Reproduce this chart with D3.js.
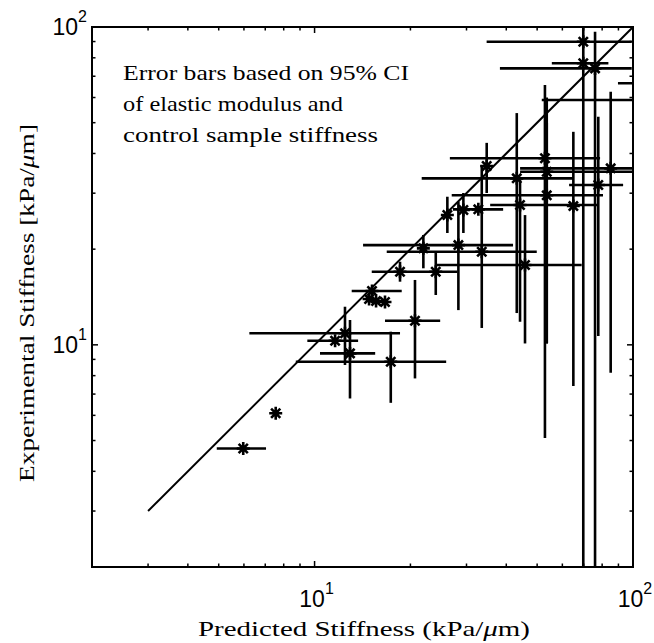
<!DOCTYPE html>
<html><head><meta charset="utf-8">
<script src="https://cdn.jsdelivr.net/npm/d3@7"></script>
<style>
body{margin:0;background:#fff}
.sans{font-family:"Liberation Sans",Arimo,Arial,Helvetica,sans-serif}
.serif{font-family:"Liberation Serif",Tinos,"Times New Roman",Times,serif}
</style>
</head><body>
<svg id="c" width="654" height="643"></svg>
<script>
// predicted stiffness (x), experimental stiffness (y), error bar ends
const predicted    = [5.97,7.55,11.6,12.46,12.92,17.35,20.67,15.15,14.83,15.6,16.64,18.55,21.96,24.02,28.29,33.5,45.8,26.12,29.33,32.68,34.72,43.15,44.18,52.9,53.6,53.6,64.96,77.8,85.1,69.8,69.8,76.0,115,110];
const experimental = [4.72,6.09,10.3,10.87,9.40,8.85,11.91,14.77,13.94,13.73,13.64,16.98,20.12,16.98,20.6,19.63,17.83,25.61,26.55,26.69,36.53,33.41,27.53,38.63,35.05,29.54,27.33,31.83,35.92,89.9,76.9,74.1,58.9,66.5];
const predLow  = [4.93,null,9.49,6.24,10.4,8.73,16.64,13.08,null,null,null,15.12,null,null,14.2,16.85,24.19,null,null,27.2,null,21.7,35.6,26.6,44.2,26.96,null,63.0,44.2,34.7,55.6,38.2,51.7,89.7];
const predHigh = [7.04,null,13.7,18.55,15.5,25.9,24.8,18.78,null,null,null,28.1,null,null,42.0,49.86,69.0,null,null,39.1,null,64.8,77.1,78.8,110,80.5,null,93.1,110,99.1,83.7,99.1,130,130];
const expLow   = [null,null,null,8.64,6.78,6.57,7.84,null,null,null,null,15.8,17.41,14.35,12.86,11.3,10.1,22.48,22.48,null,30.04,12.59,11.82,5.09,10.1,10.1,7.42,10.66,8.17,1,null,1,null,null];
const expHigh  = [null,null,null,13.18,11.97,11.0,16.0,null,null,null,null,18.26,22.16,19.45,28.2,36.8,25.6,29.24,30.04,null,43.2,53.6,33,65.7,60,50,46.8,52.2,62.6,150,null,96.6,null,null];
const xTickLabels = ["1","2"]; // exponents of 10
const yTickLabels = ["1","2"];
const annotation = ["Error bars based on 95% CI","of elastic modulus and","control sample stiffness"];

const svg = d3.select("#c");
const L=92,R=633,T=27,B=567;
const x = d3.scaleLog().domain([2,100]).range([L,R]);
const y = d3.scaleLog().domain([2,100]).range([B,T]);

svg.append("defs").append("clipPath").attr("id","clip")
  .append("rect").attr("x",L).attr("y",T).attr("width",R-L).attr("height",B-T);

const g = svg.append("g").attr("clip-path","url(#clip)");
const data = predicted.map((d,i)=>({x:d,y:experimental[i],xl:predLow[i],xh:predHigh[i],yl:expLow[i],yh:expHigh[i]}));

// identity line
g.append("line").attr("x1",x(3)).attr("y1",y(3)).attr("x2",x(100)).attr("y2",y(100))
  .attr("stroke","#000").attr("stroke-width",2);

// error bars
data.forEach(d=>{
  if(d.xl!=null) g.append("line").attr("x1",x(d.xl)).attr("x2",x(d.xh)).attr("y1",y(d.y)).attr("y2",y(d.y))
    .attr("stroke","#000").attr("stroke-width",2.6);
  if(d.yl!=null) g.append("line").attr("x1",x(d.x)).attr("x2",x(d.x)).attr("y1",y(d.yl)).attr("y2",y(d.yh))
    .attr("stroke","#000").attr("stroke-width",2.6);
});
// star markers
const s=6.5, s2=4.6;
data.forEach(d=>{
  const cx=x(d.x), cy=y(d.y);
  const p=`M${cx-s},${cy}L${cx+s},${cy}M${cx},${cy-s}L${cx},${cy+s}M${cx-s2},${cy-s2}L${cx+s2},${cy+s2}M${cx-s2},${cy+s2}L${cx+s2},${cy-s2}`;
  g.append("path").attr("d",p).attr("stroke","#000").attr("stroke-width",2.6).attr("fill","none");
});

// box
svg.append("rect").attr("x",L).attr("y",T).attr("width",R-L).attr("height",B-T)
  .attr("fill","none").attr("stroke","#000").attr("stroke-width",2);

// ticks (inward, all sides)
const minor=[2,3,4,5,6,7,8,9,20,30,40,50,60,70,80,90];
const major=[10,100];
const tk=svg.append("g").attr("stroke","#000").attr("stroke-width",1.5);
minor.concat(major).forEach(v=>{
  const len = major.includes(v)?6:3.5;
  tk.append("line").attr("x1",x(v)).attr("x2",x(v)).attr("y1",B).attr("y2",B-len);
  tk.append("line").attr("x1",x(v)).attr("x2",x(v)).attr("y1",T).attr("y2",T+len);
  tk.append("line").attr("y1",y(v)).attr("y2",y(v)).attr("x1",L).attr("x2",L+len);
  tk.append("line").attr("y1",y(v)).attr("y2",y(v)).attr("x1",R).attr("x2",R-len);
});

// tick labels
[10,100].forEach((v,i)=>{
  const t=svg.append("text").attr("class","sans").attr("x",x(v)+2).attr("y",607).attr("text-anchor","middle")
    .attr("font-size",23);
  t.append("tspan").text("10");
  t.append("tspan").attr("dy",-13).attr("font-size",16).text(xTickLabels[i]);
});
[10,100].forEach((v,i)=>{
  const t=svg.append("text").attr("class","sans").attr("x",87).attr("y",y(v)+8).attr("text-anchor","end")
    .attr("font-size",23);
  t.append("tspan").text("10");
  t.append("tspan").attr("dy",-13).attr("font-size",16).text(yTickLabels[i]);
});

// axis titles
const xt=svg.append("text").attr("class","serif").attr("x",364).attr("y",636).attr("text-anchor","middle")
  .attr("font-size",22).attr("textLength",332).attr("lengthAdjust","spacingAndGlyphs");
xt.append("tspan").text("Predicted Stiffness (kPa/");
xt.append("tspan").attr("font-style","italic").text("μ");
xt.append("tspan").text("m)");

const yt=svg.append("text").attr("class","serif").attr("transform","translate(34,303) rotate(-90)").attr("text-anchor","middle")
  .attr("font-size",22).attr("textLength",358).attr("lengthAdjust","spacingAndGlyphs");
yt.append("tspan").text("Experimental Stiffness [kPa/");
yt.append("tspan").attr("font-style","italic").text("μ");
yt.append("tspan").text("m]");

// annotation
const annW=[286,220,255];
annotation.forEach((s,i)=>{
  svg.append("text").attr("class","serif").attr("x",123).attr("y",80+i*31).attr("font-size",22)
    .attr("textLength",annW[i]).attr("lengthAdjust","spacingAndGlyphs").text(s);
});
</script>
</body></html>
